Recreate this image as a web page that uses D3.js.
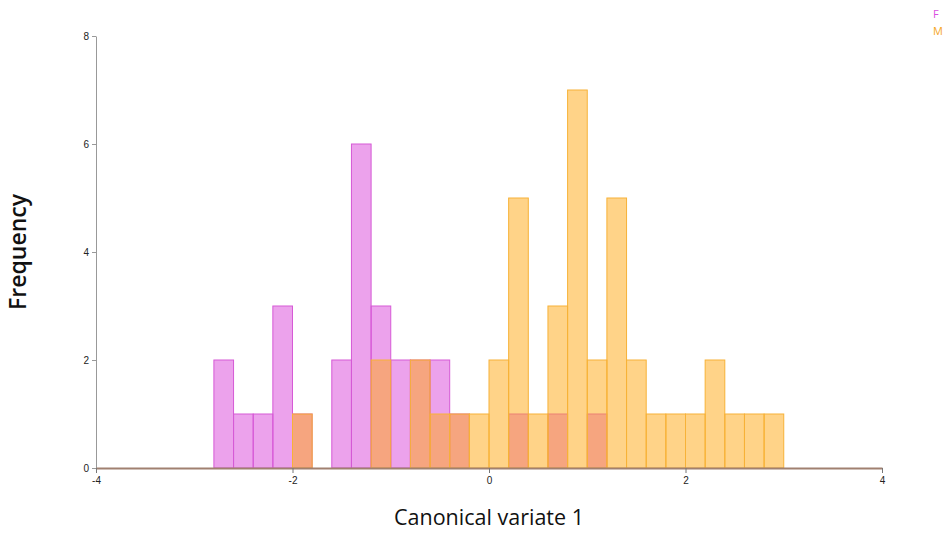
<!DOCTYPE html>
<html>
<head>
<meta charset="utf-8">
<script src="https://cdn.jsdelivr.net/npm/d3@7"></script>
<style>
  body { margin: 0; background: #fff; }
  svg { display: block; font-family: "Open Sans", "DejaVu Sans", sans-serif; }
</style>
</head>
<body>
<svg id="chart" width="946" height="535"></svg>
<script>
// Bin lower edges (bin width 0.2)
const binStarts = [-2.8,-2.6,-2.4,-2.2,-2.0,-1.8,-1.6,-1.4,-1.2,-1.0,-0.8,-0.6,-0.4,-0.2,0.0,0.2,0.4,0.6,0.8,1.0,1.2,1.4,1.6,1.8,2.0,2.2,2.4,2.6,2.8];
const binWidth = 0.2;
const countsF = [2,1,1,3,1,0,2,6,3,2,2,2,1,0,0,1,0,1,0,1,0,0,0,0,0,0,0,0,0];
const countsM = [0,0,0,0,1,0,0,0,2,0,2,1,1,1,2,5,1,3,7,2,5,2,1,1,1,2,1,1,1];
const seriesNames = ["F", "M"];
const xTicks = [-4,-2,0,2,4];
const yTicks = [0,2,4,6,8];

const svg = d3.select("#chart");
const margin = {left: 96, right: 64, top: 36, bottom: 67};
const W = 946, H = 535;

const x = d3.scaleLinear().domain([-4, 4]).range([margin.left, W - margin.right]);
const y = d3.scaleLinear().domain([0, 8]).range([H - margin.bottom, margin.top]);

const styles = {
  F: {fill: "#d946d9", stroke: "#d65ad6", text: "#d94fe0"},
  M: {fill: "#ffa812", stroke: "#f7b238", text: "#f5a623"}
};

const seriesData = {F: countsF, M: countsM};

seriesNames.forEach(name => {
  const data = binStarts.map((b, i) => ({x0: b, x1: b + binWidth, c: seriesData[name][i]})).filter(d => d.c > 0);
  svg.append("g").selectAll("rect").data(data).join("rect")
    .attr("x", d => x(d.x0))
    .attr("width", d => x(d.x1) - x(d.x0))
    .attr("y", d => y(d.c))
    .attr("height", d => y(0) - y(d.c))
    .attr("fill", styles[name].fill)
    .attr("fill-opacity", 0.5)
    .attr("stroke", styles[name].stroke)
    .attr("stroke-width", 1);
});

// Y axis
const yAxis = svg.append("g")
  .attr("transform", `translate(${margin.left},0)`)
  .call(d3.axisLeft(y).tickValues(yTicks).tickSize(4).tickSizeOuter(0));
yAxis.select(".domain").attr("stroke", "#999");
yAxis.selectAll(".tick line").attr("stroke", "#999");
yAxis.selectAll(".tick text").attr("fill", "#222").attr("font-size", 10).attr("x", -7);

// X axis
const xAxis = svg.append("g")
  .attr("transform", `translate(0,${y(0)})`)
  .call(d3.axisBottom(x).tickValues(xTicks).tickSize(5).tickSizeOuter(0).tickFormat(d3.format("d")));
xAxis.select(".domain").attr("stroke", "#a08070").attr("stroke-width", 2);
xAxis.selectAll(".tick line").attr("stroke", "#777");
xAxis.selectAll(".tick text").attr("fill", "#222").attr("font-size", 10).attr("y", 9);
xAxis.selectAll(".tick text").text(d => d < 0 ? "-" + Math.abs(d) : d);

// Axis titles
svg.append("text")
  .attr("x", x(0))
  .attr("y", 525)
  .attr("text-anchor", "middle")
  .attr("font-size", 21.5)
  .attr("fill", "#111")
  .text("Canonical variate 1");

svg.append("text")
  .attr("transform", `translate(26,252) rotate(-90)`)
  .attr("text-anchor", "middle")
  .attr("font-size", 23)
  .attr("font-weight", 600)
  .attr("fill", "#111")
  .text("Frequency");

// Legend
seriesNames.forEach((name, i) => {
  svg.append("text")
    .attr("x", 933)
    .attr("y", 18 + i * 17)
    .attr("font-size", 11)
    .attr("fill", styles[name].text)
    .text(name);
});
</script>
</body>
</html>
